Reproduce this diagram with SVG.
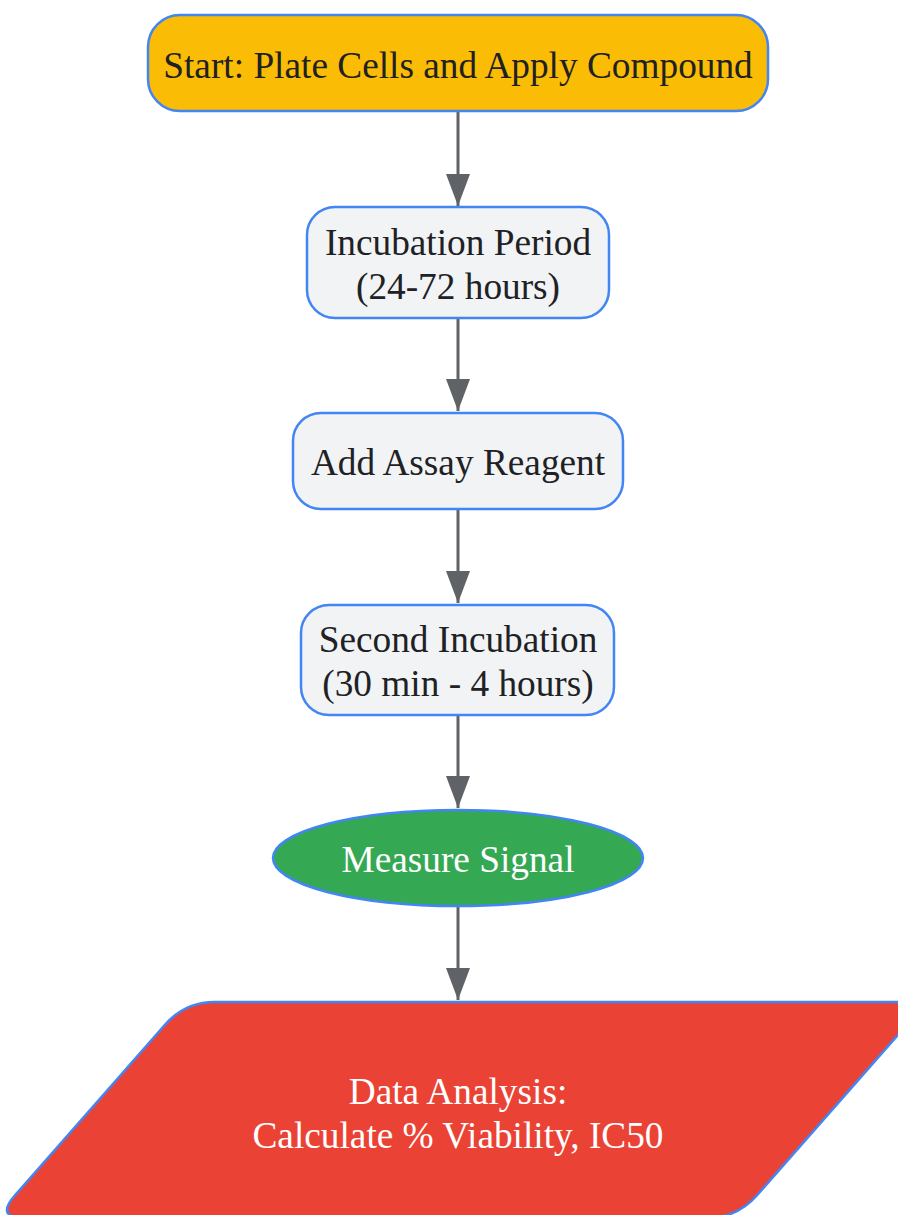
<svg xmlns="http://www.w3.org/2000/svg" width="898" height="1215" viewBox="0 0 898 1215">
<defs>
<style>
.node{stroke:#4285F4;stroke-width:2.5}
.lbl{font-family:"Liberation Serif","Times New Roman",serif;font-size:37.3px;text-anchor:middle;dominant-baseline:central}
.dark{fill:#202124}
.light{fill:#ffffff}
.edge{stroke:#5F6368;stroke-width:3;fill:none;marker-end:url(#arr)}
</style>
<marker id="arr" markerUnits="userSpaceOnUse" markerWidth="32" markerHeight="24" refX="32" refY="12" orient="auto" viewBox="0 0 32 24">
<path d="M0,0 L32,12 L0,24 Z" fill="#5F6368"/>
</marker>
</defs>
<rect width="898" height="1215" fill="#ffffff"/>
<g id="connectors">
<path class="edge" d="M458,111 V206"/>
<path class="edge" d="M458,318 V411"/>
<path class="edge" d="M458,509 V603"/>
<path class="edge" d="M458,715 V808"/>
<path class="edge" d="M458,906 V1000"/>
</g>
<g id="start">
<rect class="node" x="148" y="15" width="620" height="96" rx="32" fill="#FBBC05"/>
<text class="lbl dark" x="458" y="65">Start: Plate Cells and Apply Compound</text>
</g>
<g id="incubation">
<rect class="node" x="307" y="207" width="302" height="111" rx="28" fill="#F1F3F4"/>
<text class="lbl dark" x="458" y="242">Incubation Period</text>
<text class="lbl dark" x="458" y="286">(24-72 hours)</text>
</g>
<g id="reagent">
<rect class="node" x="293" y="413" width="330" height="96" rx="28" fill="#F1F3F4"/>
<text class="lbl dark" x="458" y="462">Add Assay Reagent</text>
</g>
<g id="second">
<rect class="node" x="301" y="605" width="313" height="110" rx="28" fill="#F1F3F4"/>
<text class="lbl dark" x="458" y="639">Second Incubation</text>
<text class="lbl dark" x="458" y="683">(30 min - 4 hours)</text>
</g>
<g id="measure">
<ellipse class="node" cx="458" cy="858" rx="185" ry="48" fill="#34A853"/>
<text class="lbl light" x="458" y="859">Measure Signal</text>
</g>
<g id="analysis">
<path class="node" fill="#EA4335" d="M215,1002 L897,1002 Q927,1002 907.2,1024.5 L756.8,1195.5 Q737,1218 707,1218 L25,1218 Q-5,1218 14.8,1195.5 L165.2,1024.5 Q185,1002 215,1002 Z"/>
<text class="lbl light" x="458" y="1091">Data Analysis:</text>
<text class="lbl light" x="458" y="1135">Calculate % Viability, IC50</text>
</g>
</svg>
